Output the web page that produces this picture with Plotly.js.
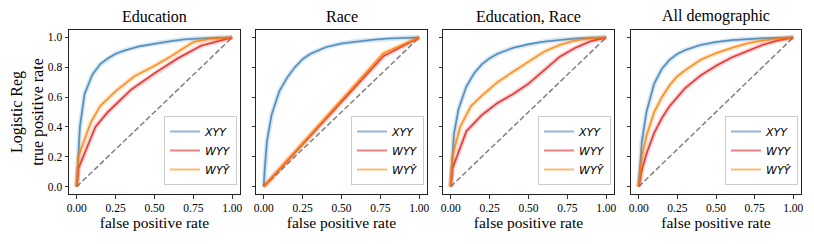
<!DOCTYPE html>
<html><head><meta charset="utf-8">
<script src="https://cdn.plot.ly/plotly-3.0.1.min.js"></script>
<style>body{margin:0;padding:0;background:#fff}#chart{width:814px;height:244px}</style>
</head><body><div id="chart"></div>
<script>
// ---------- data ----------
const panelTitles = ["Education", "Race", "Education, Race", "All demographic"];
const seriesNames = ["<i>XYY</i>", "<i>WYY</i>", "<i>WY\u0176</i>"];
const xTickVals = [0, 0.25, 0.5, 0.75, 1];
const xTickText = ["0.00", "0.25", "0.50", "0.75", "1.00"];
const yTickVals = [0, 0.2, 0.4, 0.6, 0.8, 1];
const yTickText = ["0.0", "0.2", "0.4", "0.6", "0.8", "1.0"];
const diagonal = [0, 1];

// Education
const eduXYY_fpr = [0, 0.01, 0.02, 0.05, 0.1, 0.15, 0.2, 0.25, 0.3, 0.4, 0.5, 0.6, 0.7, 0.8, 0.9, 1];
const eduXYY_tpr = [0, 0.25, 0.4, 0.62, 0.75, 0.82, 0.86, 0.89, 0.91, 0.94, 0.96, 0.975, 0.988, 0.995, 0.998, 1];
const eduWYY_fpr = [0, 0.01, 0.12, 0.2, 0.35, 0.5, 0.65, 0.8, 1];
const eduWYY_tpr = [0, 0.12, 0.40, 0.50, 0.65, 0.76, 0.86, 0.945, 1];
const eduWYh_fpr = [0, 0.01, 0.09, 0.15, 0.25, 0.37, 0.5, 0.6, 0.75, 0.85, 1];
const eduWYh_tpr = [0, 0.2, 0.43, 0.54, 0.64, 0.74, 0.81, 0.87, 0.97, 0.99, 1];

// Race
const raceXYY_fpr = [0, 0.005, 0.02, 0.05, 0.1, 0.15, 0.2, 0.25, 0.3, 0.4, 0.5, 0.6, 0.7, 0.8, 0.9, 1];
const raceXYY_tpr = [0, 0.1, 0.3, 0.48, 0.64, 0.73, 0.8, 0.855, 0.89, 0.935, 0.96, 0.975, 0.985, 0.993, 0.998, 1];
const raceWYY_fpr = [0, 0.77, 1];
const raceWYY_tpr = [0, 0.875, 1];
const raceWYh_fpr = [0, 0.77, 1];
const raceWYh_tpr = [0, 0.895, 1];

// Education, Race
const erXYY_fpr = [0, 0.01, 0.02, 0.05, 0.1, 0.15, 0.2, 0.25, 0.3, 0.4, 0.5, 0.6, 0.7, 0.8, 0.9, 1];
const erXYY_tpr = [0, 0.22, 0.35, 0.52, 0.67, 0.76, 0.82, 0.86, 0.89, 0.93, 0.955, 0.972, 0.985, 0.993, 0.998, 1];
const erWYY_fpr = [0, 0.01, 0.1, 0.2, 0.3, 0.4, 0.5, 0.6, 0.7, 0.8, 0.9, 1];
const erWYY_tpr = [0, 0.12, 0.37, 0.48, 0.56, 0.62, 0.69, 0.78, 0.87, 0.93, 0.975, 1];
const erWYh_fpr = [0, 0.01, 0.06, 0.13, 0.2, 0.3, 0.4, 0.5, 0.6, 0.7, 0.8, 0.9, 1];
const erWYh_tpr = [0, 0.2, 0.40, 0.54, 0.61, 0.70, 0.77, 0.84, 0.905, 0.95, 0.98, 0.995, 1];

// All demographic
const allXYY_fpr = [0, 0.01, 0.02, 0.05, 0.1, 0.15, 0.2, 0.25, 0.3, 0.4, 0.5, 0.6, 0.7, 0.8, 0.9, 1];
const allXYY_tpr = [0, 0.18, 0.3, 0.5, 0.69, 0.79, 0.85, 0.89, 0.915, 0.95, 0.97, 0.982, 0.99, 0.995, 0.998, 1];
const allWYY_fpr = [0, 0.01, 0.02, 0.05, 0.1, 0.15, 0.2, 0.25, 0.3, 0.4, 0.5, 0.6, 0.7, 0.8, 0.9, 1];
const allWYY_tpr = [0, 0.06, 0.11, 0.22, 0.36, 0.46, 0.54, 0.60, 0.66, 0.745, 0.81, 0.865, 0.91, 0.95, 0.98, 1];
const allWYh_fpr = [0, 0.01, 0.02, 0.05, 0.1, 0.15, 0.2, 0.25, 0.3, 0.4, 0.5, 0.6, 0.7, 0.8, 0.9, 1];
const allWYh_tpr = [0, 0.12, 0.2, 0.34, 0.5, 0.6, 0.68, 0.74, 0.78, 0.85, 0.895, 0.93, 0.96, 0.98, 0.993, 1];

const panels = [
  [[eduXYY_fpr, eduXYY_tpr], [eduWYY_fpr, eduWYY_tpr], [eduWYh_fpr, eduWYh_tpr]],
  [[raceXYY_fpr, raceXYY_tpr], [raceWYY_fpr, raceWYY_tpr], [raceWYh_fpr, raceWYh_tpr]],
  [[erXYY_fpr, erXYY_tpr], [erWYY_fpr, erWYY_tpr], [erWYh_fpr, erWYh_tpr]],
  [[allXYY_fpr, allXYY_tpr], [allWYY_fpr, allWYY_tpr], [allWYh_fpr, allWYh_tpr]]
];

// ---------- styling ----------
const rgb = [[55, 126, 184], [228, 26, 28], [255, 127, 0]];
const rgba = (c, a) => `rgba(${c[0]},${c[1]},${c[2]},${a})`;
const serif = "Liberation Serif, Times New Roman, serif";
const W = 732; // plot area width in px
const doms = [[0, 171], [187, 358], [374, 545], [562, 732]];

const traces = [];
const layout = {
  width: 814, height: 244,
  margin: {l: 69, r: 13, t: 30, b: 50, pad: 0},
  paper_bgcolor: "#fff", plot_bgcolor: "#fff",
  font: {family: serif, color: "#000", size: 11},
  showlegend: true,
  annotations: []
};

panels.forEach((series, p) => {
  const xa = p === 0 ? "x" : "x" + (p + 1);
  const ya = p === 0 ? "y" : "y" + (p + 1);
  const lg = p === 0 ? "legend" : "legend" + (p + 1);
  const xKey = p === 0 ? "xaxis" : "xaxis" + (p + 1);
  const yKey = p === 0 ? "yaxis" : "yaxis" + (p + 1);
  const d0 = doms[p][0] / W, d1 = doms[p][1] / W;

  traces.push({x: diagonal, y: diagonal, xaxis: xa, yaxis: ya, mode: "lines",
    line: {color: "rgba(128,128,128,1)", width: 1.5, dash: "5.5px,2.5px"},
    showlegend: false, hoverinfo: "skip"});

  series.forEach((s, k) => {
    traces.push({x: s[0], y: s[1], xaxis: xa, yaxis: ya, mode: "lines",
      line: {color: rgba(rgb[k], 0.18), width: 5}, showlegend: false, hoverinfo: "skip"});
    traces.push({x: s[0], y: s[1], xaxis: xa, yaxis: ya, mode: "lines",
      line: {color: rgba(rgb[k], 0.55), width: 2}, name: seriesNames[k], legend: lg});
    traces.push({x: s[0], y: s[1], xaxis: xa, yaxis: ya, mode: "lines",
      line: {color: rgba(rgb[k], 0.7), width: 1.1}, showlegend: false, hoverinfo: "skip"});
  });

  layout[xKey] = {
    domain: [d0, d1], anchor: ya, range: [-0.05, 1.05],
    tickvals: xTickVals, ticktext: xTickText, ticks: "outside", ticklen: 3.5, tickwidth: 0.8,
    tickcolor: "#000", showline: true, linecolor: "#222", linewidth: 1, mirror: true,
    showgrid: false, zeroline: false, tickfont: {family: serif, size: 11.5},
    title: {text: "false positive rate", font: {family: serif, size: 15.5}, standoff: 3}
  };
  layout[yKey] = {
    domain: [0, 1], anchor: xa, range: [-0.05, 1.05],
    tickvals: yTickVals, ticktext: yTickText, ticks: "outside", ticklen: 3.5, tickwidth: 0.8,
    tickcolor: "#000", showline: true, linecolor: "#222", linewidth: 1, mirror: true,
    showgrid: false, zeroline: false, showticklabels: p === 0, tickfont: {family: serif, size: 11.5}
  };
  if (p === 0) {
    layout[yKey].title = {text: "Logistic Reg<br>true positive rate", font: {family: serif, size: 16}, standoff: 0};
  }
  layout[lg] = {
    x: d1 - 3 / W, xanchor: "right", y: 9 / 164, yanchor: "bottom",
    xref: "paper", yref: "paper",
    bgcolor: "rgba(255,255,255,0.8)", bordercolor: "#cccccc", borderwidth: 1,
    font: {family: "DejaVu Sans, sans-serif", size: 11, color: "#000"},
    itemwidth: 30, tracegroupgap: 0
  };
  layout.annotations.push({
    text: panelTitles[p], xref: "paper", yref: "paper", x: (d0 + d1) / 2, y: 1,
    xanchor: "center", yanchor: "bottom", yshift: 3, showarrow: false,
    font: {family: serif, size: 16, color: "#000"}
  });
});

Plotly.newPlot("chart", traces, layout, {staticPlot: true, displayModeBar: false});
</script></body></html>
